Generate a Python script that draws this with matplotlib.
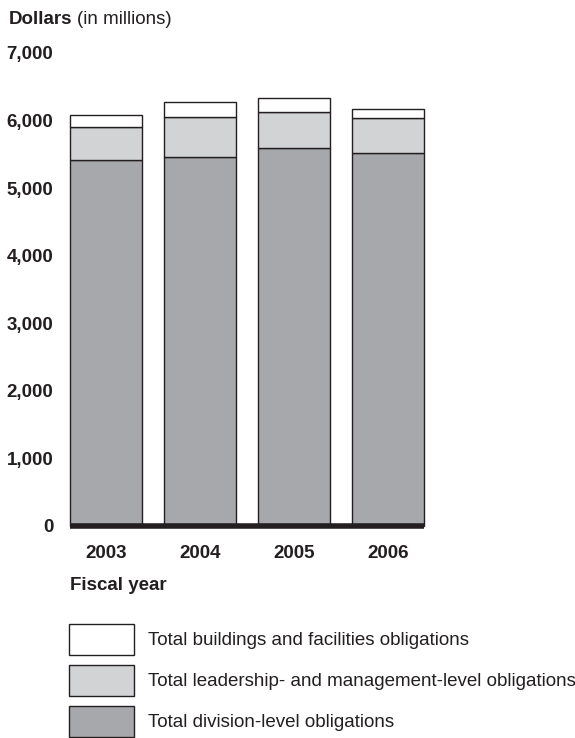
import matplotlib
matplotlib.use('Agg')
import matplotlib.pyplot as plt
from matplotlib.ticker import FuncFormatter

plt.rcParams['font.family'] = ['Liberation Sans', 'DejaVu Sans']

anos = ['2003', '2004', '2005', '2006']
divisao = [5414, 5463, 5596, 5522]
lideranca = [484, 592, 528, 514]
predios = [186, 213, 207, 137]

rotulos = ['Total buildings and facilities obligations',
           'Total leadership- and management-level obligations',
           'Total division-level obligations']

cor_escura = '#a7a8ab'
cor_clara = '#d1d3d4'
cor_borda = '#231f20'
tam = 13.5

fig = plt.figure(figsize=(5.75, 7.38), dpi=100)
ax = fig.add_axes([70 / 575, 1 - 526 / 738, 354 / 575, 473.2 / 738])

x = range(len(anos))
largura = 0.76
estilo = dict(edgecolor=cor_borda, linewidth=1.0, clip_on=False)
b1 = ax.bar(x, divisao, largura, color=cor_escura, **estilo)
b2 = ax.bar(x, lideranca, largura, bottom=divisao, color=cor_clara, **estilo)
base3 = [d + l for d, l in zip(divisao, lideranca)]
b3 = ax.bar(x, predios, largura, bottom=base3, color='white', **estilo)

ax.axhline(0, color=cor_borda, linewidth=4, zorder=5, clip_on=False,
           solid_capstyle='butt')

ax.set_xlim(-largura / 2, 3 + largura / 2)
ax.set_ylim(0, 7000)
ax.set_yticks(range(0, 7001, 1000))
ax.yaxis.set_major_formatter(FuncFormatter(lambda v, p: f'{int(v):,}'))
ax.set_xticks(list(x))
ax.set_xticklabels(anos)
ax.tick_params(axis='both', length=0, labelsize=tam, labelcolor=cor_borda)
ax.tick_params(axis='y', pad=12)
ax.tick_params(axis='x', pad=14)
for lbl in ax.get_xticklabels() + ax.get_yticklabels():
    lbl.set_fontweight('bold')
for s in ax.spines.values():
    s.set_visible(False)

fig.text(9 / 575, 1 - 19 / 738, 'Dollars', fontsize=tam, fontweight='bold',
         va='center', ha='left', color=cor_borda)
fig.text(77 / 575, 1 - 19 / 738, '(in millions)', fontsize=tam,
         va='center', ha='left', color=cor_borda)
fig.text(70 / 575, 1 - 585 / 738, 'Fiscal year', fontsize=tam, fontweight='bold',
         va='center', ha='left', color=cor_borda)

fig.legend([b3, b2, b1], rotulos, loc='upper left',
           bbox_to_anchor=(69 / 575, 1 - 624 / 738), frameon=False,
           fontsize=tam, handlelength=3.47, handleheight=2.17,
           labelspacing=0.53, handletextpad=0.75, borderpad=0,
           borderaxespad=0, labelcolor=cor_borda)

fig.savefig('out.png', dpi=100)
